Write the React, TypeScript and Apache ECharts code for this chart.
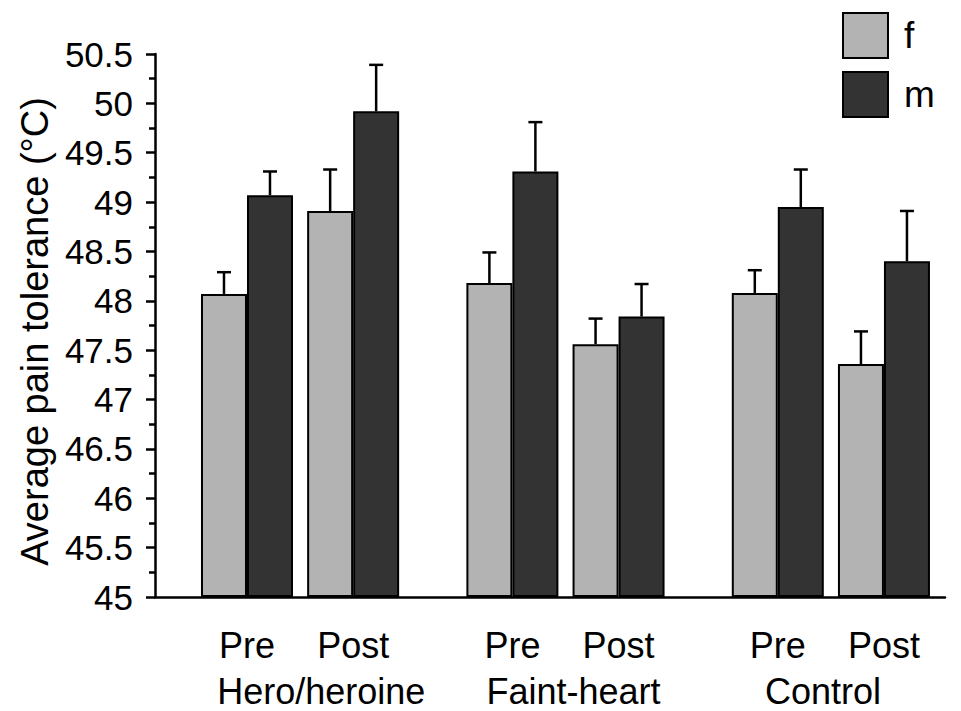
import React, { useEffect, useRef } from "react";
import * as echarts from "echarts";

// ---- data ----
const groups = ["Hero/heroine", "Faint-heart", "Control"];
const phases = ["Pre", "Post"];
const legendNames = ["f", "m"];
// order: Hero Pre, Hero Post, Faint Pre, Faint Post, Control Pre, Control Post
const fMean = [48.07, 48.91, 48.18, 47.56, 48.08, 47.36];
const fErr = [0.22, 0.42, 0.31, 0.26, 0.23, 0.33];
const mMean = [49.07, 49.92, 49.31, 47.84, 48.95, 48.4];
const mErr = [0.24, 0.47, 0.5, 0.33, 0.38, 0.51];
const yMin = 45;
const yMax = 50.5;
const yStep = 0.5;

// ---- layout ----
const GROUP_STEP = 5;
const PHASE_STEP = 2;
const xOf = (i: number) => Math.floor(i / 2) * GROUP_STEP + (i % 2) * PHASE_STEP;
const groupLabelPos = [1.4, 6.15, 10.85];
const BAR_W = 46;
const FONT = "'Liberation Sans', Arial, Helvetica, sans-serif";
const F_COLOR = "#b3b3b3";
const M_COLOR = "#333333";

function errSeries(name: string, means: number[], errs: number[], offset: number) {
  return {
    name,
    type: "custom",
    xAxisIndex: 0,
    yAxisIndex: 0,
    z: 3,
    data: means.map((v, i) => [xOf(i), v, v + errs[i]]),
    renderItem: (_params: any, api: any) => {
      const p0 = api.coord([api.value(0), api.value(1)]);
      const p1 = api.coord([api.value(0), api.value(2)]);
      const cx = p0[0] + offset;
      const st = { stroke: "#000", lineWidth: 2.5 };
      return {
        type: "group",
        children: [
          { type: "line", shape: { x1: cx, y1: p0[1], x2: cx, y2: p1[1] }, style: st },
          { type: "line", shape: { x1: cx - 7, y1: p1[1], x2: cx + 7, y2: p1[1] }, style: st },
        ],
      };
    },
  };
}

export default function App() {
  const ref = useRef<HTMLDivElement>(null);
  useEffect(() => {
    if (!ref.current) return;
    const chart = echarts.init(ref.current, undefined, { renderer: "svg" });
    const xMin = -1.733;
    const xMax = 13.15;
    const phaseVals = fMean.map((_, i) => xOf(i));
    chart.setOption({
      animation: false,
      backgroundColor: "#fff",
      textStyle: { fontFamily: FONT, color: "#000" },
      grid: { left: 155, right: 16, top: 54, bottom: 114, containLabel: false },
      legend: {
        data: legendNames,
        orient: "vertical",
        left: 842,
        top: 12,
        padding: 0,
        itemWidth: 45,
        itemHeight: 45,
        itemGap: 12,
        icon: "rect",
        textStyle: { fontSize: 37, color: "#000", fontFamily: FONT, padding: [0, 0, 0, 11] },
      },
      xAxis: [
        {
          type: "value",
          min: xMin,
          max: xMax,
          position: "bottom",
          axisLine: { show: true, onZero: false, lineStyle: { color: "#000", width: 2.5 } },
          axisTick: { show: false },
          splitLine: { show: false },
          axisLabel: {
            customValues: phaseVals,
            fontSize: 36,
            color: "#000",
            fontFamily: FONT,
            margin: 30,
            lineHeight: 36,
            formatter: (v: number) => {
              const i = phaseVals.findIndex((p) => Math.abs(p - v) < 1e-6);
              return i >= 0 ? phases[i % 2] : "";
            },
          },
        },
        {
          type: "value",
          min: xMin,
          max: xMax,
          position: "bottom",
          axisLine: { show: false, onZero: false },
          axisTick: { show: false },
          splitLine: { show: false },
          axisLabel: {
            customValues: groupLabelPos,
            fontSize: 36,
            color: "#000",
            fontFamily: FONT,
            margin: 76,
            lineHeight: 36,
            formatter: (v: number) => {
              const i = groupLabelPos.findIndex((p) => Math.abs(p - v) < 1e-6);
              return i >= 0 ? groups[i] : "";
            },
          },
        },
      ],
      yAxis: {
        type: "value",
        min: yMin,
        max: yMax,
        interval: yStep,
        startValue: yMin,
        name: "Average pain tolerance (°C)",
        nameLocation: "middle",
        nameGap: 101,
        nameTextStyle: { fontSize: 38, color: "#000", fontFamily: FONT, padding: [0, 12, 0, 0] },
        axisLine: { show: true, onZero: false, lineStyle: { color: "#000", width: 2.5 } },
        axisTick: { show: true, length: 9, lineStyle: { color: "#000", width: 2.5 } },
        minorTick: { show: true, splitNumber: 2, length: 6, lineStyle: { color: "#000", width: 2.5 } },
        splitLine: { show: false },
        minorSplitLine: { show: false },
        axisLabel: {
          fontSize: 35,
          color: "#000",
          fontFamily: FONT,
          margin: 22,
          formatter: (v: number) => String(v),
        },
      },
      series: [
        {
          name: legendNames[0],
          type: "bar",
          xAxisIndex: 0,
          barWidth: BAR_W,
          barGap: "0%",
          itemStyle: { color: F_COLOR, borderColor: "#000", borderWidth: 2 },
          data: fMean.map((v, i) => [xOf(i), v]),
        },
        {
          name: legendNames[1],
          type: "bar",
          xAxisIndex: 0,
          barWidth: BAR_W,
          barGap: "0%",
          itemStyle: { color: M_COLOR, borderColor: "#000", borderWidth: 2 },
          data: mMean.map((v, i) => [xOf(i), v]),
        },
        errSeries("fErr", fMean, fErr, -BAR_W / 2),
        errSeries("mErr", mMean, mErr, BAR_W / 2),
      ],
    });
    return () => chart.dispose();
  }, []);
  return (
    <div
      ref={ref}
      style={{ position: "fixed", left: 0, top: 0, width: 961, height: 711, background: "#fff" }}
    />
  );
}
